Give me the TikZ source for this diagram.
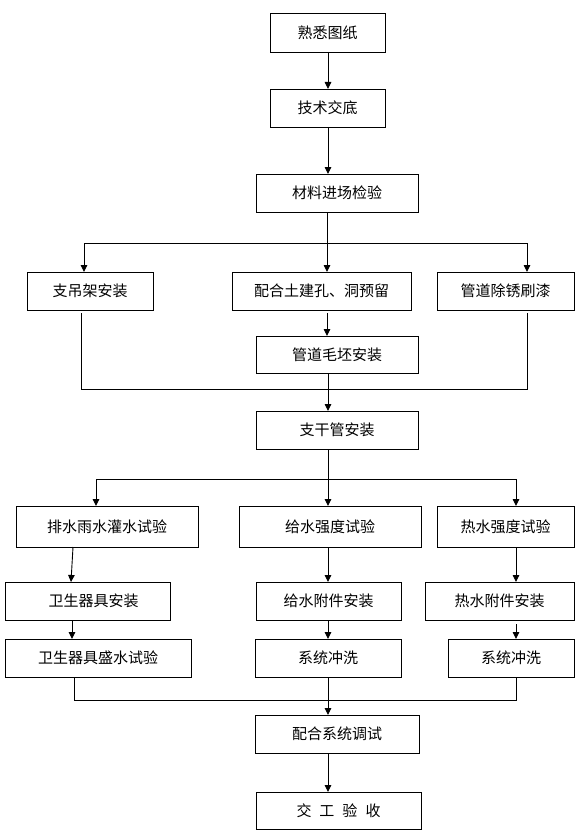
\documentclass[tikz,border=0pt]{standalone}
\usepackage{fontspec}
\newfontfamily\cjk{Noto Sans CJK SC}
\usetikzlibrary{arrows.meta,calc}
\begin{document}
\begin{tikzpicture}[x=1pt,y=-1pt,
  box/.style={draw, line width=0.9pt, inner sep=0pt, outer sep=0pt, font=\cjk\fontsize{15}{18}\selectfont},
  conn/.style={line width=0.9pt},
  arr/.style={conn, -{Triangle[length=7pt,width=6.5pt]}}]
\useasboundingbox (0,0) rectangle (587,832);
% nodes
\node[box,minimum width=115,minimum height=39] (a1) at (327.5,32.5) {熟悉图纸};
\node[box,minimum width=115,minimum height=38] (a2) at (327.5,108) {技术交底};
\node[box,minimum width=162,minimum height=38] (a3) at (337,193) {材料进场检验};
\node[box,minimum width=126,minimum height=38] (b1) at (90,291) {支吊架安装};
\node[box,minimum width=179,minimum height=38] (b2) at (321.5,291) {配合土建孔、洞预留};
\node[box,minimum width=137,minimum height=38] (b3) at (505.5,291) {管道除锈刷漆};
\node[box,minimum width=162,minimum height=37] (c1) at (337,354.5) {管道毛坯安装};
\node[box,minimum width=162,minimum height=38] (d1) at (337,430) {支干管安装};
\node[box,minimum width=182,minimum height=41] (e1) at (107,526.5) {排水雨水灌水试验};
\node[box,minimum width=182,minimum height=41] (e2) at (330,526.5) {给水强度试验};
\node[box,minimum width=137,minimum height=41] (e3) at (505.5,526.5) {热水强度试验};
\node[box,minimum width=165,minimum height=38] (f1) at (87.5,601) {\hspace{12pt}卫生器具安装};
\node[box,minimum width=145,minimum height=38] (f2) at (328.5,601) {给水附件安装};
\node[box,minimum width=149,minimum height=38] (f3) at (499.5,601) {热水附件安装};
\node[box,minimum width=186,minimum height=38] (g1) at (98,658) {卫生器具盛水试验};
\node[box,minimum width=146,minimum height=38] (g2) at (328,658) {系统冲洗};
\node[box,minimum width=126,minimum height=38] (g3) at (511,658) {系统冲洗};
\node[box,minimum width=164,minimum height=38] (h1) at (337,734) {配合系统调试};
\node[box,minimum width=165,minimum height=37] (h2) at (338.5,810.5) {交\hspace{8pt}工\hspace{8pt}验\hspace{8pt}收};
% junction coordinates
\coordinate (s1) at (327,243);
\coordinate (sL) at (84,243);
\coordinate (sR) at (527,243);
\coordinate (mL) at (81,389);
\coordinate (mR) at (527,389);
\coordinate (t2) at (328,479);
\coordinate (tL) at (96,479);
\coordinate (tR) at (516,479);
\coordinate (uL) at (74,700);
\coordinate (u) at (328,700);
\coordinate (uR) at (516,700);
% connectors
\draw[arr] (a1.south -| t2) -- (a2.north -| t2);
\draw[arr] (a2.south -| t2) -- (a3.north -| t2);
\draw[conn] (a3.south -| s1) -- (s1);
\draw[conn] (sL) -- (sR);
\draw[arr] (sL) -- (sL |- b1.north);
\draw[arr] (s1) -- (s1 |- b2.north);
\draw[arr] (sR) -- (sR |- b3.north);
\draw[arr] ($(b2.south -| s1)+(0,3)$) -- (c1.north -| s1);
\draw[conn] ($(b1.south -| mL)+(0,3)$) -- (mL) -- (mR) -- ($(b3.south -| mR)+(0,3)$);
\draw[arr] (c1.south -| t2) -- (d1.north -| t2);
\draw[conn] (d1.south -| t2) -- (t2);
\draw[conn] (tL) -- (tR);
\draw[arr] (tL) -- (tL |- e1.north);
\draw[arr] (t2) -- (t2 |- e2.north);
\draw[arr] (tR) -- (tR |- e3.north);
\draw[arr] ($(e1.south west)+(57,0)$) -- ($(f1.north west)+(66,0)$);
\draw[arr] (e2.south -| t2) -- (f2.north -| t2);
\draw[arr] (e3.south -| tR) -- (f3.north -| tR);
\draw[arr] ($(f1.south west)+(67,0)$) -- ($(g1.north west)+(67,0)$);
\draw[arr] (f2.south -| t2) -- (g2.north -| t2);
\draw[arr] ($(f3.south -| tR)+(0,4)$) -- (g3.north -| tR);
\draw[conn] (g1.south -| uL) -- (uL) -- (uR) -- (g3.south -| uR);
\draw[arr] (g2.south -| u) -- (h1.north -| u);
\draw[arr] (h1.south -| u) -- (h2.north -| u);
\end{tikzpicture}
\end{document}
